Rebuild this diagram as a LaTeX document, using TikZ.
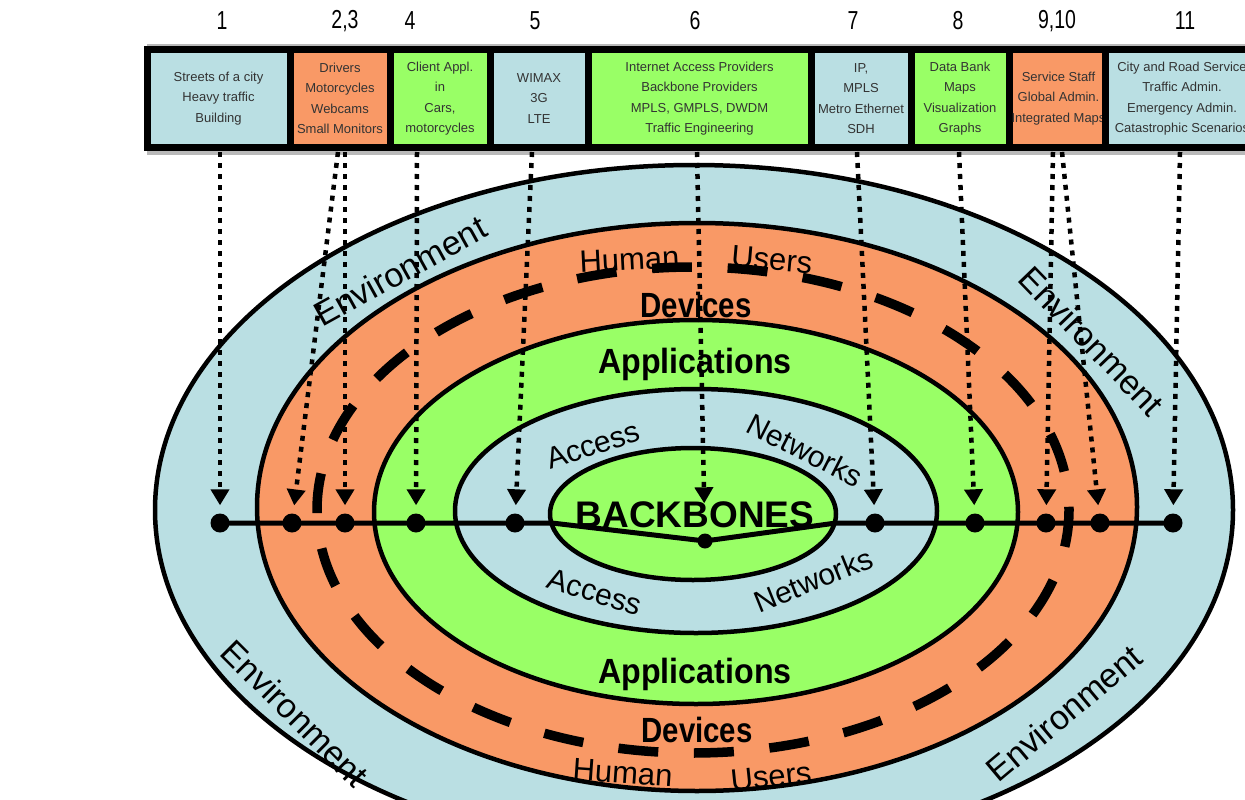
\documentclass[tikz,border=0pt]{standalone}
\usepackage{fontspec}
\setmainfont{Liberation Sans}
\usetikzlibrary{arrows.meta}
\definecolor{envblue}{HTML}{BADFE3}
\definecolor{devorange}{HTML}{F99966}
\definecolor{appgreen}{HTML}{99FF66}
\begin{document}
\begin{tikzpicture}[x=1pt,y=-1pt,
  ringline/.style={draw=black, line width=4.5pt},
  ndot/.style={circle, fill=black, inner sep=0pt, minimum size=19pt},
  topbox/.style={draw=black, line width=7pt, inner sep=0pt, minimum height=97pt, text=black!80, align=center, font=\fontsize{13}{20.5}\selectfont},
  numlbl/.style={font=\fontsize{26}{26}\selectfont, xscale=0.75},
  dotarrow/.style={line width=4.5pt, dash pattern=on 5pt off 6pt, -{Triangle[width=18pt,length=16pt]}, shorten >=8pt},
  ringtext/.style={font=\fontsize{34}{34}\selectfont},
  acctext/.style={font=\fontsize{30}{30}\selectfont},
  usertext/.style={font=\fontsize{31}{31}\selectfont, anchor=base},
  boldtext/.style={font=\bfseries\fontsize{35}{35}\selectfont, anchor=base},
]
\useasboundingbox (0,0) rectangle (1245,800);
\clip (0,0) rectangle (1245,800);

% ---- column numbers
\node[numlbl] (l1) at (222,21) {1};
\node[numlbl] (l23) at (345,21) {2,3};
\node[numlbl] (l4) at (410,21) {4};
\node[numlbl] (l5) at (535,21) {5};
\node[numlbl] (l6) at (695,21) {6};
\node[numlbl] (l7) at (853,21) {7};
\node[numlbl] (l8) at (958,21) {8};
\node[numlbl] (l910) at (1057,21) {9,10};
\node[numlbl] (l11) at (1185,21) {11};

% ---- top boxes
\fill[gray!55] (147,44) rectangle (1262,155);
\node[topbox, fill=envblue, minimum width=143pt] (b1) at (218.5,98.5) {Streets of a city\\Heavy traffic\\Building};
\node[topbox, fill=devorange, minimum width=100pt] (b23) at (340,98.5) {Drivers\\Motorcycles\\Webcams\\Small Monitors};
\node[topbox, fill=appgreen, minimum width=100pt] (b4) at (440,98.5) {Client Appl.\\in\\Cars,\\motorcycles};
\node[topbox, fill=envblue, minimum width=98pt] (b5) at (539,98.5) {WIMAX\\3G\\LTE};
\node[topbox, fill=appgreen, minimum width=223pt] (b6) at (699.5,98.5) {Internet Access Providers\\Backbone Providers\\MPLS, GMPLS, DWDM\\Traffic Engineering};
\node[topbox, fill=envblue, minimum width=100pt] (b7) at (861,98.5) {IP,\\MPLS\\Metro Ethernet\\SDH};
\node[topbox, fill=appgreen, minimum width=98pt] (b8) at (960,98.5) {Data Bank\\Maps\\Visualization\\Graphs};
\node[topbox, fill=devorange, minimum width=99pt] (b910) at (1058.5,98.5) {Service Staff\\Global Admin.\\Integrated Maps};
\node[topbox, fill=envblue, minimum width=154pt] (b11) at (1182,98.5) {City and Road Service\\Traffic Admin.\\Emergency Admin.\\Catastrophic Scenarios};

% ---- rings
\filldraw[ringline, fill=envblue] (694,510) ellipse [x radius=539, y radius=345];
\filldraw[ringline, fill=devorange] (697,507) ellipse [x radius=440, y radius=284];
\filldraw[ringline, fill=appgreen] (696,512) ellipse [x radius=322, y radius=192];
\filldraw[ringline, fill=envblue] (696,511) ellipse [x radius=241, y radius=122];
\filldraw[ringline, fill=appgreen] (693,514) ellipse [x radius=143, y radius=66];

% dashed road line in the devices ring
\draw[line width=9.5pt, dash pattern=on 40pt off 35.66pt, dash phase=3pt] (693,510) ellipse [x radius=376, y radius=243];

% ---- ring labels
\node[ringtext, rotate=29] (env1) at (400,271) {Environment};
\node[ringtext, rotate=-46] (env2) at (1092,341) {Environment};
\node[ringtext, rotate=-45] (env3) at (295,713) {Environment};
\node[ringtext, rotate=40] (env4) at (1064,713) {Environment};

\node[usertext, rotate=3] (hu1) at (630,270) {Human};
\node[usertext, rotate=-5] (us1) at (771,270) {Users};
\node[usertext, rotate=-4] (hu2) at (622,783) {Human};
\node[usertext, rotate=6] (us2) at (772,787) {Users};

\node[boldtext, xscale=0.84] (dev1) at (696,317) {Devices};
\node[boldtext, xscale=0.84] (dev2) at (697,742) {Devices};
\node[boldtext, xscale=0.92] (app1) at (695,373) {Applications};
\node[boldtext, xscale=0.92] (app2) at (695,683) {Applications};

\node[acctext, rotate=18] (ac1) at (593,445) {Access};
\node[acctext, rotate=-27] (nw1) at (805,450) {Networks};
\node[acctext, rotate=-17] (ac2) at (595,592) {Access};
\node[acctext, rotate=22] (nw2) at (813,580) {Networks};

\node[font=\bfseries\fontsize{37}{37}\selectfont, anchor=base] (bb) at (695,527) {BACKBONES};

% ---- main line and nodes
\node[ndot] (n1) at (220,523) {};
\node[ndot] (n2) at (292,523) {};
\node[ndot] (n3) at (345,523) {};
\node[ndot] (n4) at (416,523) {};
\node[ndot] (n5) at (515,523) {};
\node[ndot, minimum size=15pt] (n6) at (705,541) {};
\node[ndot] (n7) at (875,523) {};
\node[ndot] (n8) at (975,523) {};
\node[ndot] (n9) at (1046,523) {};
\node[ndot] (n10) at (1100,523) {};
\node[ndot] (n11) at (1173,523) {};
\coordinate (bbL) at (552,523);
\coordinate (bbR) at (836,523);
\draw[line width=5pt, line join=round] (n1.center) -- (n5.center) -- (bbL) -- (n6.center) -- (bbR) -- (n11.center);

% ---- dotted arrows from boxes
\coordinate (s1) at (220,152);
\coordinate (s2) at (338,152);
\coordinate (s3) at (345,152);
\coordinate (s4) at (417,152);
\coordinate (s5) at (532,152);
\coordinate (s6) at (697,152);
\coordinate (s7) at (857,152);
\coordinate (s8) at (959,152);
\coordinate (s9) at (1053,152);
\coordinate (s10) at (1062,152);
\coordinate (s11) at (1180,152);
\draw[dotarrow] (s1) -- (n1);
\draw[dotarrow] (s2) -- (n2);
\draw[dotarrow] (s3) -- (n3);
\draw[dotarrow] (s4) -- (n4);
\draw[dotarrow] (s5) -- (n5);
\draw[dotarrow, shorten >=30pt] (s6) -- (n6);
\draw[dotarrow] (s7) -- (n7);
\draw[dotarrow] (s8) -- (n8);
\draw[dotarrow] (s9) -- (n9);
\draw[dotarrow] (s10) -- (n10);
\draw[dotarrow] (s11) -- (n11);
\end{tikzpicture}
\end{document}
